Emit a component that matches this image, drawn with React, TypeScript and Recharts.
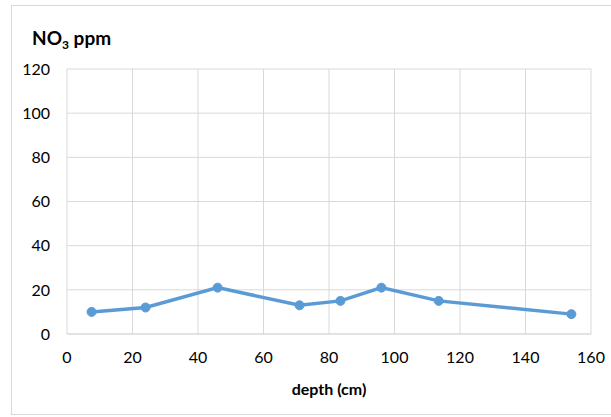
import React from 'react';
import { LineChart, Line, XAxis, YAxis, CartesianGrid } from 'recharts';

const depths = [7.5, 24, 46, 71, 83.5, 96, 113.5, 154];
const no3Values = [10, 12, 21, 13, 15, 21, 15, 9];
const xTicks = [0, 20, 40, 60, 80, 100, 120, 140, 160];
const yTicks = [0, 20, 40, 60, 80, 100, 120];

const chartData = depths.map((depth, i) => ({ depth, no3: no3Values[i] }));

const FONT = 'Lato, "Open Sans", sans-serif';

export default function App() {
    return (
        <div style={{ position: 'fixed', left: 0, top: 0, width: 611, height: 417, overflow: 'hidden', background: '#fff', fontFamily: FONT }}>
            <div style={{ position: 'absolute', left: 11, top: 5, width: 620, height: 410, border: '1px solid #d9d9d9', boxSizing: 'border-box' }} />
            <div style={{ position: 'absolute', left: 32, top: 27, fontSize: 19, fontWeight: 700, color: '#000', lineHeight: '22px' }}>
                NO<sub style={{ fontSize: 12, verticalAlign: '-4px' }}>3</sub> ppm
            </div>
            <div style={{ position: 'absolute', left: 0, top: 0 }}>
                <LineChart width={611} height={417} data={chartData} margin={{ top: 69, right: 20, bottom: 0, left: 7 }}>
                    <CartesianGrid stroke="#d9d9d9" strokeWidth={1} />
                    <XAxis
                        type="number"
                        dataKey="depth"
                        domain={[0, 160]}
                        ticks={xTicks}
                        height={83}
                        tickLine={false}
                        tickSize={0}
                        tickMargin={18}
                        axisLine={{ stroke: '#d9d9d9' }}
                        tick={{ fill: '#000', fontSize: 16, fontFamily: FONT }}
                        label={{ value: 'depth (cm)', position: 'insideBottom', offset: 22, fill: '#000', fontSize: 16, fontWeight: 700, fontFamily: FONT }}
                    />
                    <YAxis
                        type="number"
                        domain={[0, 120]}
                        ticks={yTicks}
                        width={60}
                        tickLine={false}
                        axisLine={false}
                        tickSize={0}
                        tickMargin={17}
                        tick={{ fill: '#000', fontSize: 16, fontFamily: FONT }}
                    />
                    <Line
                        type="linear"
                        dataKey="no3"
                        stroke="#5b9bd5"
                        strokeWidth={3.5}
                        dot={{ r: 4.5, fill: '#5b9bd5', stroke: '#5b9bd5', strokeWidth: 1 }}
                        isAnimationActive={false}
                    />
                </LineChart>
            </div>
        </div>
    );
}
